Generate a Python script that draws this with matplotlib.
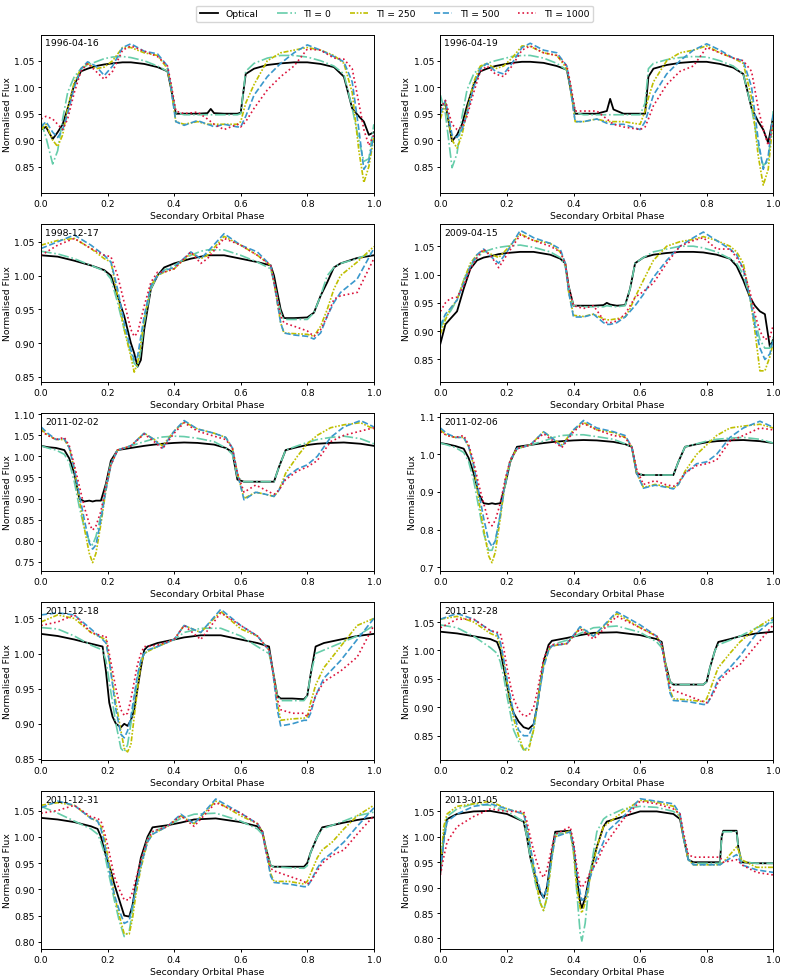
"""
Light curves of the secondary: optical vs. models with different TI values
"""
import matplotlib
matplotlib.use("Agg")
import matplotlib.pyplot as plt
from matplotlib.ticker import MultipleLocator

# ---- data ----
DATES = ["1996-04-16", "1996-04-19", "1998-12-17", "2009-04-15", "2011-02-02",
         "2011-02-06", "2011-12-18", "2011-12-28", "2011-12-31", "2013-01-05"]
LABELS = ["Optical", "TI = 0", "TI = 250", "TI = 500", "TI = 1000"]

# 1996-04-16
PHASE_1 = [0.00, 0.015, 0.035, 0.05, 0.065, 0.08, 0.10, 0.12, 0.14, 0.165, 0.19, 0.215, 0.245, 0.27,
           0.31, 0.35, 0.38, 0.39, 0.405, 0.43, 0.47, 0.50, 0.51, 0.52, 0.55, 0.59, 0.60, 0.615, 0.64,
           0.68, 0.72, 0.76, 0.80, 0.84, 0.88, 0.91, 0.935, 0.955, 0.97, 0.985, 1.00]
OPTICAL_1 = [0.920, 0.925, 0.902, 0.915, 0.930, 0.960, 1.005, 1.030, 1.035, 1.040, 1.043, 1.045, 1.047, 1.047,
             1.044, 1.038, 1.030, 1.000, 0.950, 0.950, 0.950, 0.951, 0.959, 0.951, 0.950, 0.950, 0.952, 1.025,
             1.035, 1.042, 1.045, 1.047, 1.047, 1.044, 1.038, 1.020, 0.960, 0.945, 0.935, 0.910, 0.915]
TI0_1 = [0.935, 0.905, 0.855, 0.88, 0.94, 0.99, 1.02, 1.035, 1.042, 1.048, 1.054, 1.057, 1.058, 1.056,
         1.05, 1.04, 1.03, 1.005, 0.952, 0.948, 0.948, 0.948, 0.948, 0.948, 0.948, 0.948, 0.95, 1.03,
         1.045, 1.055, 1.06, 1.06, 1.057, 1.05, 1.04, 1.025, 0.96, 0.90, 0.86, 0.865, 0.93]
TI250_1 = [0.92, 0.93, 0.90, 0.888, 0.91, 0.96, 1.01, 1.035, 1.045, 1.035, 1.038, 1.05, 1.075, 1.075,
           1.065, 1.06, 1.035, 1.0, 0.935, 0.93, 0.935, 0.93, 0.93, 0.93, 0.93, 0.93, 0.935, 0.97,
           1.005, 1.05, 1.065, 1.07, 1.075, 1.07, 1.06, 1.045, 0.99, 0.88, 0.82, 0.85, 0.905]
TI500_1 = [0.925, 0.935, 0.915, 0.905, 0.92, 0.95, 1.0, 1.035, 1.048, 1.04, 1.022, 1.04, 1.075, 1.082,
           1.068, 1.063, 1.04, 1.0, 0.935, 0.928, 0.937, 0.93, 0.928, 0.925, 0.93, 0.925, 0.925, 0.945,
           0.985, 1.02, 1.045, 1.065, 1.08, 1.07, 1.058, 1.048, 1.01, 0.92, 0.845, 0.86, 0.91]
TI1000_1 = [0.94, 0.945, 0.94, 0.93, 0.92, 0.94, 0.99, 1.03, 1.045, 1.03, 1.015, 1.03, 1.07, 1.078,
            1.068, 1.058, 1.04, 1.01, 0.955, 0.95, 0.953, 0.94, 0.935, 0.93, 0.92, 0.93, 0.925, 0.935,
            0.96, 0.995, 1.02, 1.04, 1.072, 1.07, 1.055, 1.053, 1.035, 0.97, 0.92, 0.89, 0.91]

# 1996-04-19
PHASE_2 = [0.00, 0.015, 0.035, 0.05, 0.065, 0.08, 0.10, 0.12, 0.14, 0.165, 0.19, 0.215, 0.245, 0.27,
           0.31, 0.35, 0.38, 0.39, 0.405, 0.43, 0.47, 0.50, 0.51, 0.52, 0.55, 0.60, 0.615, 0.625, 0.64,
           0.68, 0.72, 0.76, 0.80, 0.84, 0.88, 0.91, 0.935, 0.955, 0.97, 0.985, 1.00]
OPTICAL_2 = [0.965, 0.97, 0.898, 0.91, 0.93, 0.965, 1.005, 1.03, 1.035, 1.04, 1.043, 1.046, 1.048, 1.048,
             1.046, 1.04, 1.033, 1.0, 0.95, 0.95, 0.95, 0.955, 0.978, 0.958, 0.95, 0.95, 0.95, 1.02,
             1.035, 1.042, 1.046, 1.048, 1.048, 1.044, 1.037, 1.025, 0.96, 0.935, 0.92, 0.895, 0.945]
TI0_2 = [0.985, 0.95, 0.848, 0.875, 0.945, 0.995, 1.025, 1.038, 1.045, 1.05, 1.054, 1.058, 1.06, 1.06,
         1.055, 1.045, 1.032, 1.005, 0.952, 0.948, 0.948, 0.948, 0.948, 0.948, 0.948, 0.948, 0.97, 1.035,
         1.045, 1.052, 1.056, 1.058, 1.057, 1.05, 1.04, 1.025, 0.96, 0.89, 0.852, 0.86, 0.955]
TI250_2 = [0.94, 0.97, 0.9, 0.885, 0.91, 0.955, 1.01, 1.04, 1.045, 1.035, 1.04, 1.055, 1.078, 1.077,
           1.065, 1.06, 1.035, 1.0, 0.935, 0.935, 0.94, 0.935, 0.935, 0.935, 0.935, 0.93, 0.955, 0.98,
           1.01, 1.05, 1.065, 1.07, 1.078, 1.065, 1.055, 1.045, 0.98, 0.87, 0.815, 0.845, 0.94]
TI500_2 = [0.95, 0.975, 0.91, 0.905, 0.92, 0.95, 1.0, 1.035, 1.045, 1.03, 1.025, 1.045, 1.075, 1.083,
           1.07, 1.065, 1.04, 1.0, 0.935, 0.935, 0.94, 0.932, 0.93, 0.93, 0.93, 0.92, 0.935, 0.955,
           0.985, 1.025, 1.05, 1.07, 1.082, 1.07, 1.055, 1.05, 1.0, 0.9, 0.845, 0.87, 0.95]
TI1000_2 = [0.96, 0.975, 0.93, 0.92, 0.925, 0.945, 0.99, 1.03, 1.04, 1.025, 1.02, 1.04, 1.07, 1.078,
            1.065, 1.06, 1.04, 1.01, 0.955, 0.955, 0.955, 0.94, 0.935, 0.93, 0.925, 0.92, 0.925, 0.94,
            0.965, 1.005, 1.03, 1.04, 1.075, 1.065, 1.055, 1.05, 1.03, 0.96, 0.92, 0.89, 0.93]

# 1998-12-17
PHASE_3 = [0.0, 0.05, 0.1, 0.15, 0.19, 0.21, 0.23, 0.25, 0.27, 0.28, 0.29, 0.30, 0.31, 0.33, 0.35, 0.37,
           0.40, 0.45, 0.48, 0.5, 0.55, 0.6, 0.65, 0.69, 0.70, 0.72, 0.73, 0.76, 0.8, 0.82, 0.84, 0.86,
           0.88, 0.9, 0.95, 1.0]
OPTICAL_3 = [1.03, 1.028, 1.022, 1.015, 1.008, 1.0, 0.97, 0.94, 0.9, 0.885, 0.865, 0.875, 0.92, 0.98,
             1.0, 1.012, 1.018, 1.025, 1.028, 1.03, 1.03, 1.025, 1.02, 1.015, 1.0, 0.95, 0.937, 0.937,
             0.938, 0.945, 0.97, 0.99, 1.012, 1.018, 1.026, 1.03]
TI0_3 = [1.036, 1.032, 1.025, 1.015, 1.007, 0.995, 0.96, 0.92, 0.885, 0.87, 0.865, 0.89, 0.93, 0.98,
         1.0, 1.008, 1.015, 1.03, 1.036, 1.038, 1.038, 1.03, 1.02, 1.01, 0.99, 0.945, 0.935, 0.935,
         0.935, 0.945, 0.97, 1.0, 1.012, 1.018, 1.025, 1.035]
TI250_3 = [1.045, 1.052, 1.055, 1.04, 1.025, 1.02, 0.97, 0.92, 0.88, 0.857, 0.87, 0.9, 0.935, 0.985,
           1.0, 1.005, 1.01, 1.033, 1.025, 1.03, 1.058, 1.045, 1.03, 1.015, 0.99, 0.93, 0.915, 0.914,
           0.913, 0.91, 0.925, 0.95, 0.98, 1.0, 1.02, 1.043]
TI500_3 = [1.04, 1.05, 1.06, 1.045, 1.03, 1.02, 0.98, 0.93, 0.89, 0.875, 0.88, 0.91, 0.94, 0.985,
           1.0, 1.007, 1.012, 1.035, 1.025, 1.035, 1.062, 1.045, 1.035, 1.015, 0.99, 0.93, 0.915, 0.912,
           0.91, 0.906, 0.915, 0.94, 0.96, 0.975, 0.995, 1.04]
TI1000_3 = [1.03, 1.045, 1.055, 1.04, 1.03, 1.028, 1.0, 0.96, 0.92, 0.91, 0.915, 0.935, 0.955, 0.99,
            1.005, 1.005, 1.01, 1.035, 1.018, 1.025, 1.055, 1.045, 1.03, 1.015, 0.99, 0.94, 0.93, 0.925,
            0.918, 0.91, 0.92, 0.94, 0.965, 0.97, 0.975, 1.025]

# 2009-04-15
PHASE_4 = [0.0, 0.015, 0.03, 0.05, 0.07, 0.09, 0.11, 0.13, 0.155, 0.175, 0.2, 0.24, 0.28, 0.33, 0.36,
           0.375, 0.385, 0.40, 0.43, 0.46, 0.49, 0.50, 0.51, 0.53, 0.555, 0.57, 0.585, 0.61, 0.64, 0.68,
           0.72, 0.76, 0.79, 0.83, 0.87, 0.89, 0.91, 0.93, 0.945, 0.96, 0.975, 0.99, 1.0]
OPTICAL_4 = [0.878, 0.912, 0.922, 0.935, 0.975, 1.01, 1.025, 1.03, 1.033, 1.036, 1.038, 1.04, 1.04,
             1.035, 1.028, 1.02, 0.98, 0.945, 0.945, 0.945, 0.946, 0.95, 0.947, 0.945, 0.946, 0.975,
             1.02, 1.03, 1.035, 1.038, 1.04, 1.04, 1.039, 1.035, 1.028, 1.015, 0.99, 0.96, 0.945,
             0.935, 0.93, 0.872, 0.885]
TI0_4 = [0.905, 0.925, 0.935, 0.955, 0.99, 1.015, 1.03, 1.04, 1.045, 1.048, 1.05, 1.052, 1.048, 1.04,
         1.03, 1.015, 0.98, 0.945, 0.943, 0.943, 0.943, 0.945, 0.944, 0.943, 0.945, 0.975, 1.02, 1.03,
         1.04, 1.045, 1.05, 1.05, 1.047, 1.04, 1.028, 1.02, 1.0, 0.96, 0.92, 0.885, 0.87, 0.87, 0.89]
TI250_4 = [0.895, 0.92, 0.94, 0.955, 0.99, 1.02, 1.035, 1.042, 1.035, 1.03, 1.045, 1.072, 1.06, 1.055,
           1.04, 1.02, 0.97, 0.928, 0.926, 0.93, 0.922, 0.92, 0.92, 0.922, 0.925, 0.94, 0.96, 0.99,
           1.025, 1.05, 1.058, 1.062, 1.067, 1.06, 1.05, 1.04, 1.02, 0.96, 0.9, 0.83, 0.83, 0.855, 0.88]
TI500_4 = [0.91, 0.93, 0.94, 0.955, 0.985, 1.015, 1.035, 1.045, 1.03, 1.02, 1.04, 1.078, 1.065, 1.055,
           1.045, 1.02, 0.97, 0.925, 0.925, 0.93, 0.915, 0.912, 0.912, 0.915, 0.925, 0.935, 0.945, 0.965,
           0.995, 1.025, 1.05, 1.065, 1.075, 1.06, 1.045, 1.035, 1.01, 0.96, 0.91, 0.87, 0.85, 0.86, 0.885]
TI1000_4 = [0.935, 0.95, 0.958, 0.96, 0.98, 1.01, 1.03, 1.045, 1.03, 1.012, 1.035, 1.07, 1.06, 1.05,
            1.04, 1.02, 0.98, 0.945, 0.94, 0.945, 0.92, 0.915, 0.915, 0.918, 0.93, 0.945, 0.96, 0.97,
            0.985, 1.02, 1.05, 1.06, 1.065, 1.045, 1.045, 1.03, 1.01, 0.97, 0.93, 0.9, 0.885, 0.89, 0.91]

# 2011-02-02
PHASE_5 = [0.0, 0.02, 0.045, 0.07, 0.085, 0.10, 0.115, 0.13, 0.145, 0.155, 0.165, 0.18, 0.195, 0.21,
           0.23, 0.27, 0.31, 0.34, 0.365, 0.40, 0.43, 0.47, 0.52, 0.555, 0.575, 0.59, 0.61, 0.645, 0.675,
           0.70, 0.715, 0.735, 0.77, 0.80, 0.83, 0.87, 0.91, 0.96, 1.0]
OPTICAL_5 = [1.025, 1.022, 1.02, 1.015, 0.995, 0.96, 0.90, 0.893, 0.895, 0.893, 0.895, 0.895, 0.935,
             0.99, 1.015, 1.02, 1.025, 1.028, 1.03, 1.032, 1.033, 1.032, 1.028, 1.02, 1.01, 0.945, 0.94,
             0.94, 0.94, 0.94, 0.975, 1.015, 1.022, 1.027, 1.03, 1.032, 1.033, 1.03, 1.025]
TI0_5 = [1.025, 1.02, 1.015, 1.005, 0.985, 0.94, 0.88, 0.83, 0.8, 0.79, 0.81, 0.86, 0.93, 0.985,
         1.015, 1.025, 1.035, 1.042, 1.046, 1.048, 1.047, 1.043, 1.035, 1.02, 1.005, 0.95, 0.94, 0.94,
         0.94, 0.94, 0.975, 1.015, 1.025, 1.033, 1.04, 1.045, 1.048, 1.042, 1.03]
TI250_5 = [1.065, 1.05, 1.04, 1.04, 1.02, 0.97, 0.9, 0.83, 0.77, 0.748, 0.77, 0.84, 0.92, 0.98,
           1.015, 1.025, 1.055, 1.04, 1.025, 1.06, 1.082, 1.065, 1.055, 1.045, 1.02, 0.96, 0.9, 0.915,
           0.91, 0.905, 0.92, 0.96, 1.0, 1.03, 1.05, 1.068, 1.075, 1.08, 1.065]
TI500_5 = [1.07, 1.055, 1.04, 1.042, 1.02, 0.97, 0.91, 0.85, 0.795, 0.78, 0.79, 0.85, 0.92, 0.98,
           1.015, 1.025, 1.055, 1.04, 1.02, 1.06, 1.085, 1.065, 1.055, 1.045, 1.02, 0.96, 0.897, 0.915,
           0.91, 0.905, 0.92, 0.95, 0.97, 0.98, 1.0, 1.045, 1.07, 1.085, 1.07]
TI1000_5 = [1.06, 1.05, 1.04, 1.045, 1.025, 0.98, 0.93, 0.88, 0.84, 0.825, 0.835, 0.87, 0.93, 0.98,
            1.015, 1.025, 1.053, 1.035, 1.018, 1.055, 1.08, 1.06, 1.048, 1.04, 1.02, 0.96, 0.915, 0.932,
            0.92, 0.91, 0.92, 0.945, 0.965, 0.975, 0.99, 1.035, 1.05, 1.06, 1.068]

# 2011-02-06
PHASE_6 = PHASE_5
OPTICAL_6 = [1.03, 1.027, 1.022, 1.015, 0.99, 0.95, 0.895, 0.87, 0.868, 0.87, 0.868, 0.87, 0.92, 0.98,
             1.02, 1.025, 1.03, 1.033, 1.035, 1.037, 1.038, 1.037, 1.033, 1.027, 1.02, 0.948, 0.945,
             0.945, 0.945, 0.945, 0.98, 1.02, 1.027, 1.032, 1.035, 1.037, 1.038, 1.035, 1.03]
TI0_6 = [1.03, 1.025, 1.018, 1.005, 0.98, 0.93, 0.86, 0.79, 0.745, 0.745, 0.77, 0.84, 0.92, 0.98,
         1.015, 1.025, 1.035, 1.045, 1.05, 1.052, 1.052, 1.047, 1.04, 1.028, 1.02, 0.95, 0.945, 0.945,
         0.945, 0.945, 0.98, 1.02, 1.028, 1.035, 1.04, 1.043, 1.045, 1.04, 1.03]
TI250_6 = [1.065, 1.05, 1.045, 1.045, 1.02, 0.97, 0.88, 0.8, 0.73, 0.712, 0.74, 0.83, 0.93, 0.985,
           1.015, 1.025, 1.06, 1.04, 1.025, 1.065, 1.085, 1.065, 1.058, 1.045, 1.02, 0.95, 0.912, 0.92,
           0.915, 0.91, 0.92, 0.955, 1.0, 1.025, 1.05, 1.07, 1.075, 1.08, 1.07]
TI500_6 = [1.07, 1.055, 1.045, 1.045, 1.02, 0.97, 0.9, 0.83, 0.77, 0.755, 0.77, 0.84, 0.93, 0.985,
           1.015, 1.025, 1.06, 1.04, 1.02, 1.065, 1.09, 1.07, 1.06, 1.05, 1.02, 0.95, 0.91, 0.918,
           0.913, 0.908, 0.92, 0.95, 0.975, 0.98, 1.0, 1.045, 1.07, 1.088, 1.072]
TI1000_6 = [1.06, 1.05, 1.045, 1.05, 1.025, 0.98, 0.92, 0.87, 0.82, 0.81, 0.825, 0.87, 0.935, 0.985,
            1.015, 1.025, 1.055, 1.035, 1.018, 1.06, 1.082, 1.065, 1.05, 1.045, 1.02, 0.96, 0.92, 0.93,
            0.92, 0.915, 0.925, 0.95, 0.97, 0.975, 0.985, 1.035, 1.05, 1.07, 1.065]

# 2011-12-18
PHASE_7 = [0.0, 0.05, 0.1, 0.15, 0.185, 0.195, 0.205, 0.215, 0.225, 0.24, 0.25, 0.26, 0.27, 0.28, 0.29,
           0.30, 0.31, 0.32, 0.35, 0.40, 0.43, 0.48, 0.54, 0.60, 0.65, 0.685, 0.695, 0.71, 0.72, 0.755,
           0.79, 0.80, 0.81, 0.825, 0.85, 0.90, 0.95, 1.0]
OPTICAL_7 = [1.028, 1.025, 1.02, 1.014, 1.01, 0.975, 0.93, 0.91, 0.9, 0.895, 0.9, 0.897, 0.905, 0.92,
             0.95, 0.98, 1.005, 1.01, 1.015, 1.02, 1.023, 1.026, 1.026, 1.02, 1.015, 1.01, 0.98, 0.94,
             0.936, 0.936, 0.935, 0.94, 0.97, 1.01, 1.015, 1.02, 1.025, 1.028]
TI0_7 = [1.037, 1.035, 1.025, 1.012, 1.005, 0.99, 0.96, 0.93, 0.9, 0.865, 0.86, 0.87, 0.9, 0.935,
         0.965, 0.99, 1.0, 1.003, 1.01, 1.02, 1.03, 1.036, 1.036, 1.025, 1.01, 1.0, 0.98, 0.94,
         0.933, 0.933, 0.933, 0.94, 0.97, 1.0, 1.005, 1.015, 1.025, 1.04]
TI250_7 = [1.045, 1.055, 1.05, 1.03, 1.022, 1.02, 0.99, 0.96, 0.93, 0.89, 0.865, 0.86, 0.87, 0.91,
           0.95, 0.985, 1.0, 1.003, 1.01, 1.02, 1.04, 1.03, 1.06, 1.035, 1.025, 1.005, 0.98, 0.93,
           0.905, 0.907, 0.908, 0.91, 0.93, 0.955, 0.98, 1.01, 1.04, 1.05]
TI500_7 = [1.055, 1.058, 1.055, 1.035, 1.02, 1.015, 0.99, 0.955, 0.92, 0.885, 0.88, 0.89, 0.91, 0.94,
           0.97, 0.99, 1.0, 1.005, 1.01, 1.02, 1.04, 1.03, 1.063, 1.04, 1.025, 1.005, 0.98, 0.92,
           0.897, 0.9, 0.905, 0.905, 0.915, 0.94, 0.965, 0.99, 1.02, 1.05]
TI1000_7 = [1.04, 1.045, 1.055, 1.03, 1.025, 1.025, 1.0, 0.975, 0.95, 0.92, 0.912, 0.915, 0.935, 0.96,
            0.985, 1.0, 1.01, 1.01, 1.012, 1.02, 1.04, 1.02, 1.058, 1.04, 1.025, 1.005, 0.98, 0.935,
            0.92, 0.915, 0.915, 0.91, 0.92, 0.94, 0.96, 0.975, 0.995, 1.04]

# 2011-12-28
PHASE_8 = [0.0, 0.05, 0.1, 0.15, 0.17, 0.18, 0.19, 0.20, 0.21, 0.22, 0.235, 0.25, 0.265, 0.28, 0.29,
           0.30, 0.31, 0.325, 0.335, 0.38, 0.42, 0.46, 0.53, 0.60, 0.65, 0.665, 0.675, 0.69, 0.70, 0.745,
           0.79, 0.80, 0.81, 0.825, 0.835, 0.87, 0.90, 0.95, 1.0]
OPTICAL_8 = [1.033, 1.03, 1.025, 1.02, 1.015, 1.0, 0.97, 0.94, 0.91, 0.89, 0.875, 0.865, 0.862, 0.87,
             0.9, 0.94, 0.98, 1.01, 1.017, 1.022, 1.027, 1.031, 1.032, 1.027, 1.02, 1.015, 0.98, 0.945,
             0.94, 0.94, 0.94, 0.945, 0.97, 1.0, 1.015, 1.02, 1.025, 1.03, 1.033]
TI0_8 = [1.045, 1.04, 1.025, 1.005, 0.995, 0.98, 0.955, 0.92, 0.89, 0.86, 0.84, 0.825, 0.83, 0.86,
         0.9, 0.94, 0.975, 1.0, 1.01, 1.018, 1.03, 1.04, 1.043, 1.032, 1.015, 1.005, 0.98, 0.945,
         0.94, 0.94, 0.94, 0.945, 0.97, 1.0, 1.01, 1.018, 1.025, 1.04, 1.05]
TI250_8 = [1.055, 1.06, 1.05, 1.03, 1.025, 1.01, 0.98, 0.945, 0.91, 0.88, 0.85, 0.825, 0.825, 0.86,
           0.9, 0.94, 0.975, 1.0, 1.008, 1.012, 1.04, 1.025, 1.065, 1.04, 1.025, 1.01, 0.98, 0.93,
           0.915, 0.913, 0.91, 0.915, 0.93, 0.955, 0.97, 0.995, 1.015, 1.04, 1.058]
TI500_8 = [1.055, 1.065, 1.055, 1.035, 1.03, 1.015, 0.985, 0.95, 0.92, 0.89, 0.86, 0.85, 0.85, 0.87,
           0.9, 0.935, 0.97, 1.0, 1.008, 1.012, 1.042, 1.025, 1.068, 1.045, 1.025, 1.01, 0.975, 0.925,
           0.912, 0.91, 0.905, 0.905, 0.915, 0.935, 0.95, 0.97, 0.99, 1.03, 1.055]
TI1000_8 = [1.04, 1.055, 1.055, 1.035, 1.032, 1.03, 1.005, 0.97, 0.94, 0.915, 0.895, 0.885, 0.885, 0.9,
            0.925, 0.955, 0.985, 1.005, 1.01, 1.012, 1.038, 1.02, 1.06, 1.04, 1.025, 1.01, 0.975, 0.935,
            0.93, 0.92, 0.91, 0.908, 0.915, 0.93, 0.945, 0.965, 0.975, 1.01, 1.045]

# 2011-12-31
PHASE_9 = [0.0, 0.05, 0.1, 0.15, 0.17, 0.18, 0.19, 0.20, 0.21, 0.22, 0.235, 0.25, 0.265, 0.275, 0.285,
           0.30, 0.32, 0.335, 0.38, 0.42, 0.46, 0.525, 0.60, 0.65, 0.665, 0.675, 0.69, 0.70, 0.745, 0.79,
           0.80, 0.81, 0.83, 0.845, 0.875, 0.91, 0.95, 1.0]
OPTICAL_9 = [1.036, 1.033, 1.028, 1.02, 1.015, 1.0, 0.975, 0.955, 0.935, 0.91, 0.88, 0.85, 0.848, 0.87,
             0.91, 0.96, 1.0, 1.018, 1.022, 1.027, 1.033, 1.035, 1.028, 1.02, 1.01, 0.98, 0.945, 0.943,
             0.943, 0.943, 0.95, 0.97, 1.0, 1.018, 1.022, 1.027, 1.032, 1.037]
TI0_9 = [1.058, 1.045, 1.03, 1.015, 1.005, 0.99, 0.97, 0.94, 0.91, 0.88, 0.84, 0.81, 0.82, 0.86,
         0.9, 0.95, 0.995, 1.01, 1.02, 1.035, 1.043, 1.045, 1.03, 1.015, 1.005, 0.98, 0.945, 0.943,
         0.941, 0.94, 0.945, 0.97, 1.0, 1.015, 1.022, 1.03, 1.04, 1.047]
TI250_9 = [1.06, 1.065, 1.06, 1.035, 1.03, 1.02, 1.0, 0.965, 0.93, 0.89, 0.85, 0.815, 0.815, 0.845,
           0.89, 0.94, 0.99, 1.005, 1.02, 1.04, 1.025, 1.068, 1.04, 1.025, 1.01, 0.98, 0.93, 0.915,
           0.915, 0.91, 0.915, 0.93, 0.96, 0.975, 0.99, 1.015, 1.04, 1.06]
TI500_9 = [1.055, 1.068, 1.06, 1.035, 1.03, 1.015, 0.99, 0.955, 0.92, 0.89, 0.86, 0.835, 0.84, 0.87,
           0.9, 0.945, 0.99, 1.005, 1.02, 1.043, 1.025, 1.072, 1.045, 1.025, 1.01, 0.975, 0.925, 0.913,
           0.91, 0.905, 0.905, 0.915, 0.94, 0.955, 0.97, 0.99, 1.02, 1.055]
TI1000_9 = [1.045, 1.05, 1.06, 1.038, 1.035, 1.03, 1.01, 0.985, 0.955, 0.925, 0.9, 0.88, 0.88, 0.895,
            0.92, 0.955, 0.995, 1.01, 1.02, 1.04, 1.02, 1.065, 1.045, 1.025, 1.01, 0.975, 0.94, 0.935,
            0.925, 0.915, 0.91, 0.915, 0.935, 0.95, 0.965, 0.975, 1.005, 1.04]

# 2013-01-05
PHASE_10 = [0.0, 0.01, 0.02, 0.05, 0.10, 0.15, 0.20, 0.25, 0.26, 0.27, 0.285, 0.30, 0.31, 0.32, 0.335,
            0.345, 0.39, 0.40, 0.41, 0.42, 0.425, 0.435, 0.45, 0.47, 0.49, 0.50, 0.55, 0.60, 0.65, 0.70,
            0.72, 0.73, 0.745, 0.76, 0.84, 0.845, 0.85, 0.89, 0.895, 0.905, 0.95, 1.0]
OPTICAL_10 = [0.93, 1.0, 1.035, 1.045, 1.05, 1.051, 1.045, 1.03, 1.0, 0.96, 0.92, 0.89, 0.88, 0.9, 0.97,
              1.01, 1.012, 0.98, 0.92, 0.87, 0.86, 0.88, 0.93, 0.98, 1.02, 1.03, 1.04, 1.05, 1.05, 1.045,
              1.035, 1.0, 0.955, 0.95, 0.95, 1.0, 1.012, 1.012, 0.98, 0.95, 0.948, 0.948]
TI0_10 = [0.94, 1.0, 1.04, 1.055, 1.065, 1.062, 1.05, 1.03, 1.0, 0.96, 0.91, 0.87, 0.855, 0.88, 0.96,
          1.005, 1.01, 0.97, 0.89, 0.81, 0.795, 0.83, 0.93, 1.01, 1.035, 1.04, 1.055, 1.06, 1.058, 1.05,
          1.04, 1.0, 0.955, 0.948, 0.948, 1.0, 1.01, 1.01, 0.98, 0.95, 0.948, 0.948]
TI250_10 = [0.94, 1.02, 1.045, 1.06, 1.065, 1.07, 1.055, 1.045, 1.02, 0.98, 0.92, 0.87, 0.855, 0.88, 0.96,
            1.0, 1.012, 0.97, 0.9, 0.86, 0.85, 0.87, 0.92, 0.98, 1.02, 1.025, 1.05, 1.072, 1.068, 1.06,
            1.04, 1.0, 0.955, 0.945, 0.945, 0.948, 0.95, 0.98, 0.975, 0.955, 0.94, 0.94]
TI500_10 = [0.935, 0.99, 1.03, 1.045, 1.06, 1.065, 1.055, 1.045, 1.02, 0.98, 0.93, 0.895, 0.88, 0.9, 0.96,
            1.0, 1.01, 0.98, 0.93, 0.89, 0.875, 0.88, 0.92, 0.96, 0.99, 1.01, 1.04, 1.075, 1.07, 1.065,
            1.045, 1.0, 0.955, 0.945, 0.945, 0.947, 0.95, 0.965, 0.96, 0.945, 0.935, 0.93]
TI1000_10 = [0.925, 0.96, 0.99, 1.02, 1.04, 1.055, 1.05, 1.05, 1.03, 1.0, 0.96, 0.93, 0.92, 0.935, 0.98,
             1.005, 1.02, 0.99, 0.94, 0.905, 0.9, 0.91, 0.93, 0.95, 0.98, 0.99, 1.035, 1.07, 1.065, 1.055,
             1.045, 1.01, 0.965, 0.96, 0.96, 0.955, 0.95, 0.955, 0.953, 0.945, 0.93, 0.925]

PANELS = [
    (PHASE_1, OPTICAL_1, TI0_1, TI250_1, TI500_1, TI1000_1),
    (PHASE_2, OPTICAL_2, TI0_2, TI250_2, TI500_2, TI1000_2),
    (PHASE_3, OPTICAL_3, TI0_3, TI250_3, TI500_3, TI1000_3),
    (PHASE_4, OPTICAL_4, TI0_4, TI250_4, TI500_4, TI1000_4),
    (PHASE_5, OPTICAL_5, TI0_5, TI250_5, TI500_5, TI1000_5),
    (PHASE_6, OPTICAL_6, TI0_6, TI250_6, TI500_6, TI1000_6),
    (PHASE_7, OPTICAL_7, TI0_7, TI250_7, TI500_7, TI1000_7),
    (PHASE_8, OPTICAL_8, TI0_8, TI250_8, TI500_8, TI1000_8),
    (PHASE_9, OPTICAL_9, TI0_9, TI250_9, TI500_9, TI1000_9),
    (PHASE_10, OPTICAL_10, TI0_10, TI250_10, TI500_10, TI1000_10),
]

# axis ranges / tick steps per panel
YLIMS = [(0.801, 1.0995), (0.801, 1.0995), (0.843, 1.077), (0.811, 1.090), (0.729, 1.104),
         (0.691, 1.111), (0.849, 1.074), (0.808, 1.086), (0.787, 1.088), (0.780, 1.091)]
YSTEPS = [0.05, 0.05, 0.05, 0.05, 0.05, 0.1, 0.05, 0.05, 0.05, 0.05]

# ---- styles ----
COLORS = ["black", "#66CDAA", "#BFBF00", "#3A98CC", "#DC143C"]
STYLES = ["-", "-.", (0, (3, 1, 1, 1, 1, 1)), "--", ":"]
WIDTHS = [1.3, 1.2, 1.2, 1.2, 1.2]
FS = 6.7

plt.rcParams["font.family"] = ["DejaVu Sans"]
plt.rcParams["font.size"] = FS

fig, axes = plt.subplots(5, 2, figsize=(7.89, 9.79), dpi=100)
fig.subplots_adjust(left=0.052, right=0.980, top=0.9637, bottom=0.030, hspace=0.196, wspace=0.2)

for i, ax in enumerate(axes.flat):
    phase = PANELS[i][0]
    for k in range(5):
        ax.plot(phase, PANELS[i][k + 1], color=COLORS[k], linestyle=STYLES[k],
                linewidth=WIDTHS[k], label=LABELS[k])
    ax.set_xlim(0, 1)
    ax.set_ylim(*YLIMS[i])
    ax.yaxis.set_major_locator(MultipleLocator(YSTEPS[i]))
    ax.xaxis.set_major_locator(MultipleLocator(0.2))
    ax.tick_params(labelsize=FS, length=2.5, width=0.7, pad=2)
    ax.set_xlabel("Secondary Orbital Phase", fontsize=FS, labelpad=2)
    ax.set_ylabel("Normalised Flux", fontsize=FS, labelpad=2)
    ax.text(0.012, 0.975, DATES[i], transform=ax.transAxes, ha="left", va="top", fontsize=FS)
    for sp in ax.spines.values():
        sp.set_linewidth(0.7)

handles, labels = axes.flat[0].get_legend_handles_labels()
fig.legend(handles, labels, loc="upper center", ncol=5, fontsize=FS,
           bbox_to_anchor=(0.5, 0.998), frameon=True)

fig.savefig("out.png", dpi=100)
